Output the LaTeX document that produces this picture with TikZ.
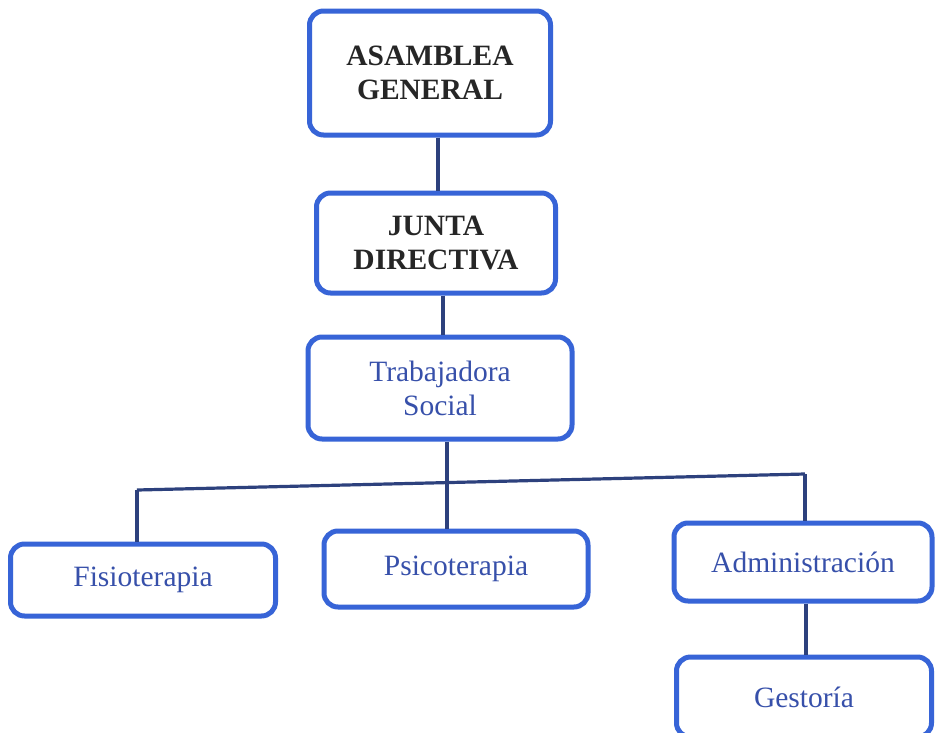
\documentclass[tikz,border=0pt]{standalone}
\usepackage{fontspec}
\setmainfont{Liberation Serif}
\definecolor{boxblue}{RGB}{55,100,215}
\definecolor{txtblue}{RGB}{55,80,170}
\definecolor{linecol}{RGB}{45,65,125}
\tikzset{
  orgbox/.style={draw=boxblue, line width=5pt, rounded corners=14pt, fill=white, align=center, inner sep=0pt, font=\fontsize{29.5}{34}\selectfont},
  topbox/.style={orgbox, font=\fontsize{29.5}{34}\selectfont\bfseries, text=black!85},
  subbox/.style={orgbox, text=txtblue},
  conn/.style={draw=linecol, line width=3.2pt}
}
\begin{document}
\begin{tikzpicture}[x=1pt,y=-1pt]
\useasboundingbox (0,0) rectangle (935,732);
\fill[white] (0,0) rectangle (935,732);
\node[topbox, minimum width=241pt, minimum height=124pt] (ag) at (430,73) {ASAMBLEA\\GENERAL};
\node[topbox, minimum width=239pt, minimum height=100pt] (jd) at (436,243) {JUNTA\\DIRECTIVA};
\node[subbox, minimum width=264pt, minimum height=102pt] (ts) at (440,388) {Trabajadora\\Social};
\node[subbox, minimum width=265pt, minimum height=72pt] (fi) at (143,580) {Fisioterapia};
\node[subbox, minimum width=264pt, minimum height=76pt] (ps) at (456,569) {Psicoterapia};
\node[subbox, minimum width=258pt, minimum height=78pt] (ad) at (803,562) {Administraci\'on};
\node[subbox, minimum width=255pt, minimum height=80pt] (ge) at (804,697) {Gestor\'ia};
\coordinate (busL) at (137,490);
\coordinate (busM) at (447,482.5);
\coordinate (busR) at (805,474);
\draw[conn] (ag.south -| 438,0) -- (jd.north -| 438,0);
\draw[conn] (jd.south -| 443,0) -- (ts.north -| 443,0);
\draw[conn] (ts.south -| busM) -- (busM);
\draw[conn] (busL) -- (busR);
\draw[conn] (busL) -- (busL |- fi.north);
\draw[conn] (busM) -- (busM |- ps.north);
\draw[conn] (busR) -- (busR |- ad.north);
\draw[conn] (ad.south -| 806,0) -- (ge.north -| 806,0);
\end{tikzpicture}
\end{document}
